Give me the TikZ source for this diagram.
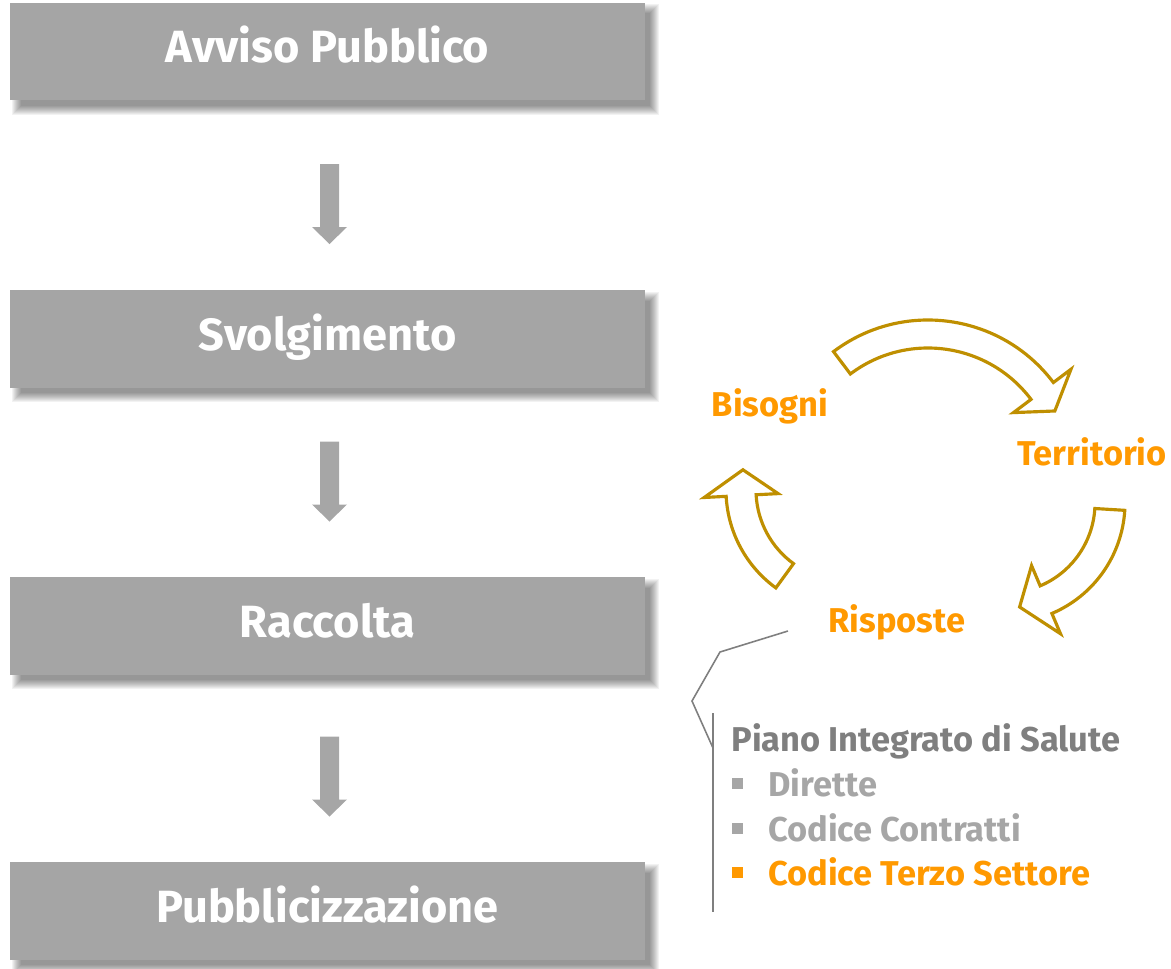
\documentclass[tikz,border=0pt]{standalone}
\usepackage{fontspec}
\setmainfont{Fira Sans}
\usetikzlibrary{calc,backgrounds}

\definecolor{boxgrey}{RGB}{165,165,165}
\definecolor{arrowgrey}{RGB}{166,166,166}
\definecolor{cyclegold}{RGB}{191,143,0}
\definecolor{labelorange}{RGB}{255,153,0}
\definecolor{textgrey}{RGB}{127,127,127}
\definecolor{itemgrey}{RGB}{166,166,166}

% soft drop shadow under a stage box
\newcommand{\softshadow}[1]{%
  \begin{scope}[on background layer]
    \foreach \d in {-6,...,3}{
      \fill[black, opacity=0.05] ($(#1.north west)+(8+\d,8+\d)$) rectangle ($(#1.south east)+(8-\d,8-\d)$);
    }
  \end{scope}}

% grey block arrow between two stages
\newcommand{\stagearrow}[1]{%
  \fill[arrowgrey, shift={(#1)}] (-9.5,-40) -- (9.5,-40) -- (9.5,23) -- (17.5,23)
    -- (0,40) -- (-17.5,23) -- (-9.5,23) -- cycle;}

% curved outline arrow: cx, cy, r in, r out, tail, head base, tip, barb
\newcommand{\cyclearrow}[8]{%
  \pgfmathsetmacro{\cyrmid}{(#3+#4)/2}%
  \pgfmathsetmacro{\cyrlow}{#3-#8}%
  \pgfmathsetmacro{\cyrhigh}{#4+#8}%
  \draw[cycleshape, shift={(#1,#2)}] (#5:#4) arc[start angle=#5, end angle=#6, radius=#4]
    -- (#6:\cyrhigh) -- (#7:\cyrmid) -- (#6:\cyrlow) -- (#6:#3)
    arc[start angle=#6, end angle=#5, radius=#3] -- cycle;}

\newcommand{\sqbullet}{\raisebox{4pt}{\rule{6.2pt}{6.2pt}}\hspace{14.2pt}}

\tikzset{
  stagebox/.style={fill=boxgrey, minimum width=12.7cm, minimum height=1.95cm, inner sep=0pt,
    text=white, font=\fontsize{25.7}{31}\selectfont\bfseries, text height=17.7pt, text depth=4.7pt},
  cyclelabel/.style={anchor=base, inner sep=0pt, text=labelorange,
    font=\fontsize{19.6}{24}\selectfont\bfseries},
  listline/.style={anchor=base west, inner sep=0pt, font=\fontsize{19.6}{24}\selectfont\bfseries},
  cycleshape/.style={draw=cyclegold, line width=1.8pt, fill=white, line join=miter},
  callout/.style={draw=textgrey, line width=0.9pt}
}

\begin{document}
\begin{tikzpicture}[x=0.02cm, y=-0.02cm]
    \useasboundingbox (0,0) rectangle (1171,968);

    % === Stages ===
    \node[stagebox] (avviso) at (327.5,51.5) {Avviso Pubblico};
    \node[stagebox] (svolgimento) at (327.5,339) {Svolgimento};
    \node[stagebox] (raccolta) at (327.5,626) {Raccolta};
    \node[stagebox] (pubblicizzazione) at (327.5,911) {Pubblicizzazione};
    \softshadow{avviso}
    \softshadow{svolgimento}
    \softshadow{raccolta}
    \softshadow{pubblicizzazione}

    \coordinate (gap1) at (329.5,204);
    \coordinate (gap2) at (329.5,481.5);
    \coordinate (gap3) at (329.5,776.5);
    \stagearrow{gap1}
    \stagearrow{gap2}
    \stagearrow{gap3}

    % === Cycle ===
    \cyclearrow{928}{477}{129}{157}{-127}{-37}{-27.5}{22}
    \cyclearrow{1005}{503}{90}{120}{3.5}{67}{82}{22}
    \cyclearrow{847}{490}{91}{121}{126}{177}{191}{22}

    \node[cyclelabel] (bisogni) at (770,416) {Bisogni};
    \node[cyclelabel] (territorio) at (1092,465) {Territorio};
    \node[cyclelabel] (risposte) at (897,632) {Risposte};

    % === Callout list ===
    \coordinate (calloutstart) at (788,631);
    \coordinate (listtop) at (713,713);
    \coordinate (listbottom) at (713,912);
    \draw[callout] (calloutstart) -- (720,652) -- (692,701) -- (713,748);
    \draw[callout] (listtop) -- (listbottom);

    \node[listline, text=textgrey] (piano) at (731,751) {Piano Integrato di Salute};
    \node[listline, text=itemgrey] (dirette) at (732,796) {\sqbullet Dirette};
    \node[listline, text=itemgrey] (contratti) at (732,841) {\sqbullet Codice Contratti};
    \node[listline, text=labelorange] (terzo) at (732,885) {\sqbullet Codice Terzo Settore};
\end{tikzpicture}
\end{document}
